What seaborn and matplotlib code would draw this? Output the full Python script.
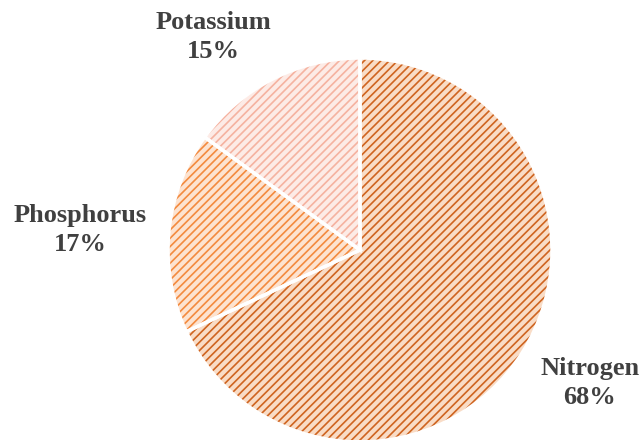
import matplotlib
matplotlib.use("Agg")
import matplotlib.pyplot as plt
import seaborn as sns

# datos del grafico
nutrientes = ["Nitrogen", "Phosphorus", "Potassium"]
porcentajes = [68, 17, 15]
color_fondo = ["#f9dcc6", "#fde3d0", "#fdebe6"]
color_trama = ["#cf6420", "#f38a3e", "#f5b2a0"]

sns.set_style("white")
plt.rcParams["font.family"] = ["Liberation Serif", "DejaVu Serif"]
plt.rcParams["hatch.linewidth"] = 1.2

fig = plt.figure(figsize=(6.41, 4.4), dpi=100)
ax = fig.add_axes([168 / 641, -2 / 440, 384 / 641, 384 / 440])

# primera capa: relleno con trama
wedges, _ = ax.pie(porcentajes, startangle=90, counterclock=False,
                   colors=color_fondo, radius=1)
for w, c in zip(wedges, color_trama):
    w.set_hatch("////")
    w.set_edgecolor(c)
    w.set_linewidth(0)

# segunda capa: bordes blancos
ax.pie(porcentajes, startangle=90, counterclock=False, radius=1,
       wedgeprops=dict(fill=False, edgecolor="white", linewidth=2.5))
ax.set_xlim(-1, 1)
ax.set_ylim(-1, 1)
ax.set_aspect("equal")
ax.axis("off")

# etiquetas
pos_etiquetas = [(590, 383), (80, 230), (213, 37)]
for nombre, pct, (px, py) in zip(nutrientes, porcentajes, pos_etiquetas):
    fig.text(px / 641, 1 - py / 440, f"{nombre}\n{pct}%", ha="center", va="center",
             fontsize=19, fontweight="bold", color="#404040", linespacing=1.32)

fig.savefig("out.png", dpi=100)
